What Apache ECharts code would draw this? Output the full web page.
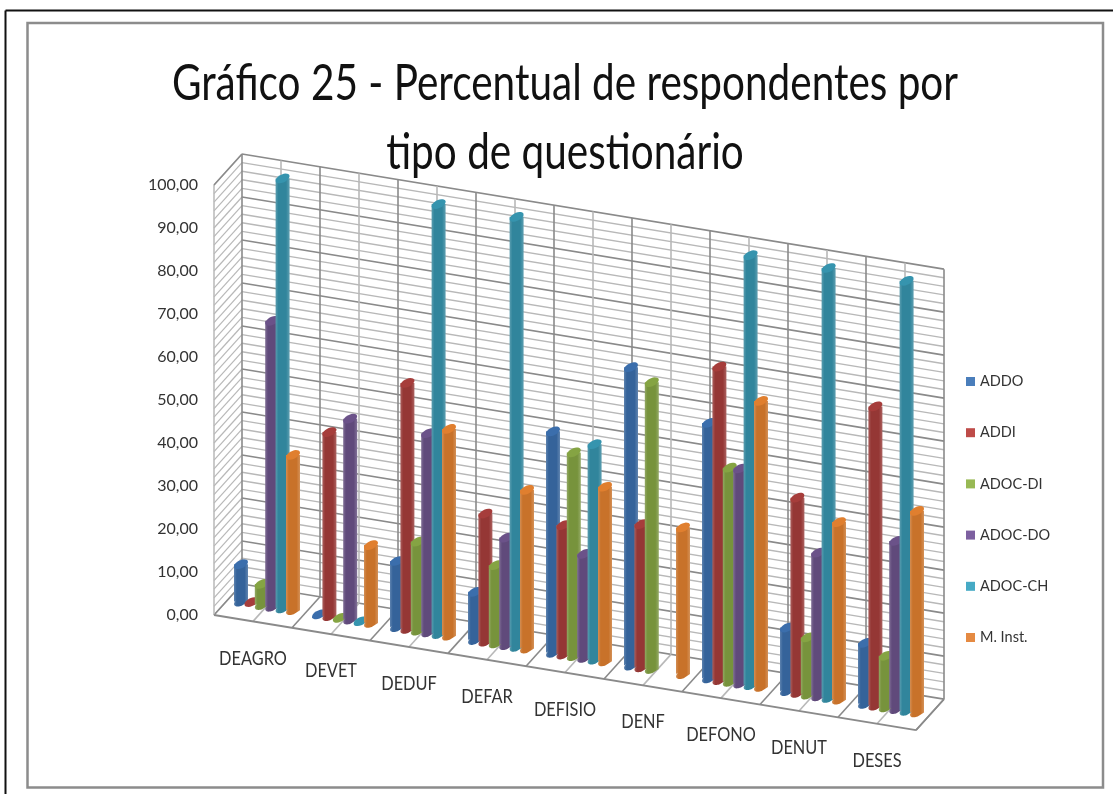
<!DOCTYPE html>
<html>
<head>
<meta charset="utf-8">
<title>Gráfico 25</title>
<script src="https://cdn.jsdelivr.net/npm/echarts@6/dist/echarts.min.js"></script>
<style>
html, body { margin: 0; padding: 0; background: #fff; }
#main { width: 1113px; height: 794px; }
</style>
</head>
<body>
<div id="main"></div>
<script>
// dados
var categories = ['DEAGRO', 'DEVET', 'DEDUF', 'DEFAR', 'DEFISIO', 'DENF', 'DEFONO', 'DENUT', 'DESES'];
var addo = [8.7, 0, 15.4, 11.2, 51.5, 69.4, 59.4, 14.8, 14.2];
var addi = [0.3, 42.8, 57.2, 29.8, 30.1, 33.3, 72.9, 45.4, 69.6];
var adocDi = [4.9, 0, 20.7, 18.2, 47.4, 66.7, 49.8, 13.3, 12];
var adocDo = [66.5, 46.7, 46.3, 25, 24.2, null, 50, 33.4, 39.1];
var adocCh = [100, 0, 100, 100, 50.1, null, 100, 100, 100];
var mInst = [36.1, 18.1, 48.1, 36.9, 40.6, 34.1, 66.5, 41.3, 46.9];
var seriesNames = ['ADDO', 'ADDI', 'ADOC-DI', 'ADOC-DO', 'ADOC-CH', 'M. Inst.'];
var seriesValues = [addo, addi, adocDi, adocDo, adocCh, mInst];
var barColors = ['#35639a', '#953735', '#77933c', '#604a7b', '#31859c', '#c8722a'];
var legendColors = ['#4a7ebb', '#be4b48', '#98b954', '#7d60a0', '#46aac5', '#e58a42'];

var chart = echarts.init(document.getElementById('main'));

// projeção oblíqua: inclinação do eixo X e vetor de profundidade
var GRID = { left: 214, top: 185, width: 702, height: 430 };
var SHEAR = 0.164;
var DEPTH = [28, -31];
var MAJOR = '#8a8a8a';
var MINOR = '#b8b8b8';
var FONT = 'Lato, "Noto Sans"';

// pos pode ser fracionário: o eixo de categorias arredonda, então soma o resto à mão
function project(api, pos, value, z) {
    var i = Math.max(0, Math.min(categories.length - 1, Math.round(pos)));
    var p = api.coord([i, value]);
    var x = p[0] + (pos - i) * api.size([1, 0])[0];
    return [x + DEPTH[0] * z, p[1] + (x - GRID.left) * SHEAR + DEPTH[1] * z];
}

function line(a, b, color, width) {
    return {
        type: 'line',
        shape: { x1: a[0], y1: a[1], x2: b[0], y2: b[1] },
        style: { stroke: color, lineWidth: width || 1.3 }
    };
}

function renderWalls(params, api) {
    var n = categories.length;
    var children = [];
    // linhas horizontais da parede de fundo e hachura da parede lateral
    for (var v = 0; v <= 100; v += 2) {
        var major = v % 10 === 0;
        children.push(line(project(api, -0.5, v, 1), project(api, n - 0.5, v, 1), major ? MAJOR : MINOR, major ? 1.6 : 1.4));
        children.push(line(project(api, -0.5, v, 0), project(api, -0.5, v, 1), MINOR, 1.2));
    }
    // verticais do fundo e linhas do piso
    for (var k = 0; k <= n * 2; k++) {
        var pos = k / 2 - 0.5;
        var col = k % 2 === 0 ? MAJOR : MINOR;
        children.push(line(project(api, pos, 0, 1), project(api, pos, 100, 1), col, 1.6));
        children.push(line(project(api, pos, 0, 0), project(api, pos, 0, 1), col, 1.6));
    }
    // contornos
    children.push(line(project(api, -0.5, 0, 0), project(api, -0.5, 100, 0), MINOR, 1.5));
    children.push(line(project(api, -0.5, 100, 0), project(api, -0.5, 100, 1), MAJOR, 1.5));
    children.push(line(project(api, -0.5, 0, 0), project(api, n - 0.5, 0, 0), MAJOR, 2));
    children.push(line(project(api, n - 0.5, 0, 0), project(api, n - 0.5, 0, 1), MAJOR, 1.5));
    return { type: 'group', children: children };
}

function renderCatLabel(params, api) {
    var p = project(api, api.value(0), 0, 0);
    return {
        type: 'text',
        x: p[0],
        y: p[1] + 37,
        scaleX: 0.86,
        style: {
            text: categories[api.value(0)],
            fill: '#333',
            font: '19px ' + FONT,
            align: 'center',
            verticalAlign: 'middle'
        }
    };
}

function ellipsePoints(c, u, w, from, to) {
    var pts = [];
    for (var i = 0; i <= 24; i++) {
        var t = from + (to - from) * i / 24;
        pts.push([c[0] + u[0] * Math.cos(t) + w[0] * Math.sin(t), c[1] + u[1] * Math.cos(t) + w[1] * Math.sin(t)]);
    }
    return pts;
}

function makeBarRenderer(idx) {
    var offset = (idx - 2.5) * 10.4 / 78;
    return function (params, api) {
        var val = api.value(1);
        if (val === null || isNaN(val)) return;
        var cat = api.value(0) + offset;
        var base = project(api, cat, 0, 0.5);
        var top = project(api, cat, val, 0.5);
        var u = [5.4, 0.9];
        var w = [4.4, -4.8];
        var color = barColors[idx];
        var items = [];
        if (val > 0.5) {
            var hw = 7;
            // corpo: lados retos + meia elipse de baixo
            var bottom = ellipsePoints(base, u, w, Math.PI * 0.75, Math.PI * 1.75);
            var body = [[top[0] - hw, top[1]], [top[0] + hw, top[1]], [base[0] + hw, base[1]]]
                .concat(bottom.reverse(), [[base[0] - hw, base[1]]]);
            items.push({
                type: 'polygon',
                shape: { points: body },
                style: {
                    fill: new echarts.graphic.LinearGradient(0, 0, 1, 0, [
                        { offset: 0, color: echarts.color.lift(color, 0.2) },
                        { offset: 0.2, color: color },
                        { offset: 0.75, color: color },
                        { offset: 1, color: echarts.color.lift(color, 0.22) }
                    ])
                }
            });
        }
        items.push({
            type: 'polygon',
            shape: { points: ellipsePoints(top, u, w, 0, Math.PI * 2) },
            style: { fill: echarts.color.lift(color, -0.12) }
        });
        return { type: 'group', children: items };
    };
}

var series = [
    {
        type: 'custom',
        name: 'paredes',
        silent: true,
        z: 1,
        clip: false,
        data: [[0, 0]],
        renderItem: renderWalls
    },
    {
        type: 'custom',
        name: 'rotulos',
        silent: true,
        z: 1,
        clip: false,
        data: categories.map(function (c, i) { return [i, 0]; }),
        renderItem: renderCatLabel
    }
];
seriesNames.forEach(function (name, idx) {
    series.push({
        type: 'custom',
        name: name,
        z: 2 + idx,
        clip: false,
        itemStyle: { color: legendColors[idx] },
        encode: { x: 0, y: 1 },
        data: seriesValues[idx].map(function (v, i) { return [i, v]; }),
        renderItem: makeBarRenderer(idx)
    });
});

var option = {
    animation: false,
    backgroundColor: '#fff',
    legend: {
        orient: 'vertical',
        left: 961,
        top: 369,
        itemWidth: 9,
        itemHeight: 9,
        itemGap: 36.2,
        icon: 'rect',
        selectedMode: false,
        textStyle: { fontFamily: FONT, fontSize: 14.5, color: '#333' },
        data: seriesNames.map(function (n, i) {
            return { name: n, itemStyle: { color: legendColors[i] } };
        })
    },
    grid: GRID,
    xAxis: {
        type: 'category',
        data: categories,
        axisLine: { show: false },
        axisTick: { show: false },
        axisLabel: { show: false },
        splitLine: { show: false }
    },
    yAxis: {
        type: 'value',
        min: 0,
        max: 100,
        interval: 10,
        axisLine: { show: false },
        axisTick: { show: false },
        splitLine: { show: false },
        axisLabel: {
            margin: 16,
            padding: [4, 0, 0, 0],
            fontFamily: FONT,
            fontSize: 16,
            color: '#333',
            formatter: function (v) { return v.toFixed(2).replace('.', ','); }
        }
    },
    graphic: [
        // moldura: preta só em cima e à esquerda, cinza por dentro
        { type: 'line', z: -1, shape: { x1: 5.5, y1: 10.5, x2: 1113, y2: 10.5 }, style: { stroke: '#111', lineWidth: 2 } },
        { type: 'line', z: -1, shape: { x1: 5.5, y1: 10.5, x2: 5.5, y2: 794 }, style: { stroke: '#111', lineWidth: 2 } },
        { type: 'rect', z: -1, shape: { x: 27.5, y: 23, width: 1075.5, height: 764.5 }, style: { fill: '#fff', stroke: '#8c8c8c', lineWidth: 2.5 } },
        {
            type: 'text', z: 20, x: 565, y: 84, scaleX: 0.81,
            style: { text: 'Gráfico 25 - Percentual de respondentes por', font: '50px ' + FONT, fill: '#111', align: 'center', verticalAlign: 'middle' }
        },
        {
            type: 'text', z: 20, x: 565, y: 153, scaleX: 0.81,
            style: { text: 'tipo de questionário', font: '50px ' + FONT, fill: '#111', align: 'center', verticalAlign: 'middle' }
        }
    ],
    series: series
};

chart.setOption(option);

window.addEventListener('resize', function () {
    chart.resize();
});
</script>
</body>
</html>
